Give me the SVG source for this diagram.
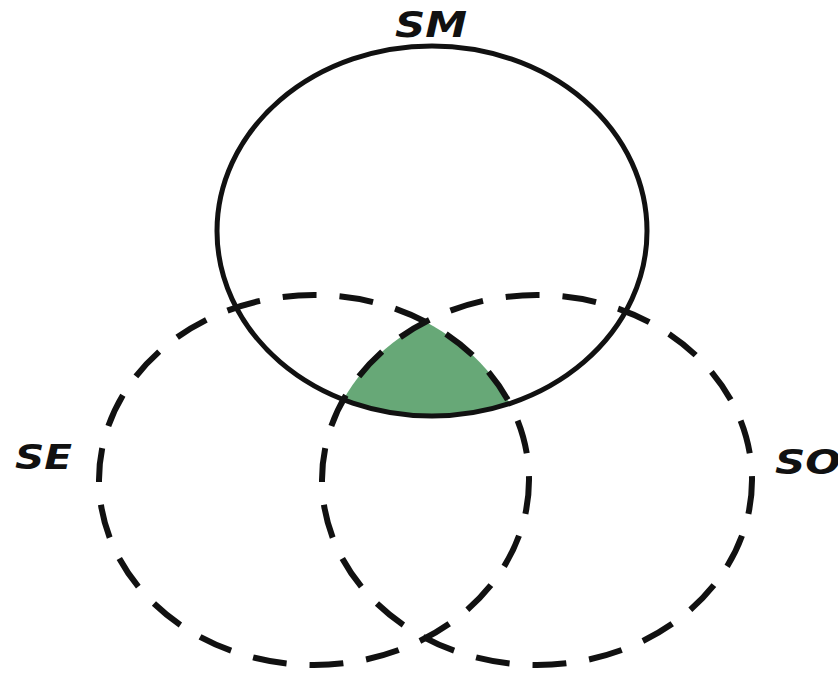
<svg xmlns="http://www.w3.org/2000/svg" width="838" height="673" viewBox="0 0 838 673">
<style>
.lbl{font-family:"DejaVu Sans","Liberation Sans",sans-serif;font-weight:bold;font-style:italic;fill:#111}
.solid{fill:none;stroke:#111;stroke-width:5}
.dash{fill:none;stroke:#111;stroke-width:6;stroke-dasharray:34 23}
</style>
<defs>
<clipPath id="cSE"><ellipse cx="314" cy="480" rx="215" ry="185"/></clipPath>
<clipPath id="cSO"><ellipse cx="537" cy="480" rx="215" ry="185"/></clipPath>
</defs>
<rect width="838" height="673" fill="#fff"/>
<g id="intersection" clip-path="url(#cSE)">
<g clip-path="url(#cSO)">
<ellipse cx="432" cy="231" rx="215" ry="185" fill="#67a877" stroke="#2d5a38" stroke-width="1"/>
</g>
</g>
<g id="connectors"></g>
<g id="SM">
<ellipse class="solid" cx="432" cy="231" rx="215" ry="185"/>
<text class="lbl" x="395" y="37" font-size="36" textLength="72" lengthAdjust="spacingAndGlyphs">SM</text>
</g>
<g id="SE">
<ellipse class="dash" cx="314" cy="480" rx="215" ry="185"/>
<text class="lbl" x="15" y="469" font-size="33" textLength="57" lengthAdjust="spacingAndGlyphs">SE</text>
</g>
<g id="SO">
<ellipse class="dash" cx="537" cy="480" rx="215" ry="185"/>
<text class="lbl" x="775" y="474" font-size="33" textLength="66" lengthAdjust="spacingAndGlyphs">SO</text>
</g>
</svg>
